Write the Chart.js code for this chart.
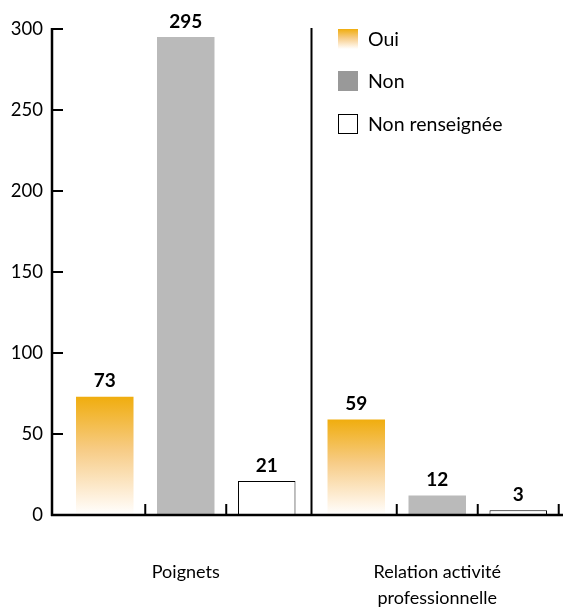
<!DOCTYPE html>
<html><head><meta charset="utf-8">
<script src="https://cdn.jsdelivr.net/npm/chart.js@4.4.1/dist/chart.umd.min.js"></script>
<style>html,body{margin:0;padding:0;background:#fff;}#wrap{width:563px;height:608px;}</style>
</head><body><div id="wrap"><canvas id="c" width="563" height="608"></canvas></div>
<script>
const categories = ['Poignets', ['Relation activité', 'professionnelle']];
const seriesNames = ['Oui', 'Non', 'Non renseignée'];
const ouiValues = [73, 59];
const nonValues = [295, 12];
const nrValues = [21, 3];
const yTicks = [0, 50, 100, 150, 200, 250, 300];

const FONT = 'Lato, "Open Sans", sans-serif';

function orangeGradient(g){
  g.addColorStop(0, '#F0AD0E');
  g.addColorStop(0.45, '#F7CC86');
  g.addColorStop(0.85, '#FEF1DE');
  g.addColorStop(1, '#FFFFFF');
  return g;
}

const decor = {
  id: 'decor',
  afterDatasetsDraw(chart){
    const ctx = chart.ctx, ca = chart.chartArea, y = chart.scales.y;
    const axisX = 52;
    ctx.save();
    ctx.strokeStyle = '#000';
    ctx.lineWidth = 2.5;
    ctx.beginPath(); ctx.moveTo(axisX, ca.top - 1); ctx.lineTo(axisX, ca.bottom + 1); ctx.stroke();
    ctx.beginPath(); ctx.moveTo(axisX - 1, ca.bottom); ctx.lineTo(563, ca.bottom); ctx.stroke();
    ctx.lineWidth = 2;
    yTicks.forEach(v => {
      const py = y.getPixelForValue(v);
      ctx.beginPath(); ctx.moveTo(axisX, py); ctx.lineTo(axisX + 11, py); ctx.stroke();
    });
    const metas = chart.data.datasets.map((d, i) => chart.getDatasetMeta(i));
    const n = categories.length;
    const xs = [];
    for (let c = 0; c < n; c++) metas.forEach(m => xs.push(m.data[c].x));
    const step = xs[1] - xs[0];
    for (let k = 0; k < xs.length; k++) {
      const next = k < xs.length - 1 ? xs[k + 1] : xs[k] + step;
      const mx = (xs[k] + next) / 2;
      const isSep = (k % 3 === 2) && k < xs.length - 1;
      ctx.lineWidth = 2;
      ctx.beginPath();
      ctx.moveTo(mx, ca.bottom);
      ctx.lineTo(mx, isSep ? ca.top - 1 : ca.bottom - 11);
      ctx.stroke();
    }
    ctx.fillStyle = '#000';
    ctx.font = 'bold 19px ' + FONT;
    ctx.textAlign = 'center';
    ctx.textBaseline = 'bottom';
    metas.forEach((m, di) => {
      m.data.forEach((el, i) => {
        ctx.fillText(String(chart.data.datasets[di].data[i]), el.x, el.y - 6);
      });
    });
    const lx = 338, ly = [29, 71, 114], bs = 20;
    ctx.font = '19.5px ' + FONT;
    ctx.textAlign = 'left';
    ctx.textBaseline = 'middle';
    seriesNames.forEach((name, i) => {
      const top = ly[i];
      if (i === 0) {
        ctx.fillStyle = orangeGradient(ctx.createLinearGradient(0, top, 0, top + bs));
        ctx.fillRect(lx, top, bs, bs);
      } else if (i === 1) {
        ctx.fillStyle = '#999999';
        ctx.fillRect(lx, top, bs, bs);
      } else {
        ctx.fillStyle = '#fff';
        ctx.fillRect(lx, top, bs, bs);
        ctx.strokeStyle = '#000'; ctx.lineWidth = 1;
        ctx.strokeRect(lx + 0.5, top + 0.5, bs - 1, bs - 1);
      }
      ctx.fillStyle = '#000';
      ctx.fillText(name, lx + 30, top + bs / 2 + 1);
    });
    ctx.restore();
  }
};

new Chart(document.getElementById('c'), {
  type: 'bar',
  data: {
    labels: categories,
    datasets: [
      { label: seriesNames[0], data: ouiValues, borderWidth: 0,
        backgroundColor: (c) => {
          const ch = c.chart;
          if (!ch.chartArea || c.type !== 'data') return '#F0AD0E';
          const y = ch.scales.y;
          const top = y.getPixelForValue(c.raw), bot = y.getPixelForValue(0);
          return orangeGradient(ch.ctx.createLinearGradient(0, top, 0, bot));
        } },
      { label: seriesNames[1], data: nonValues, backgroundColor: '#BABABA', borderWidth: 0 },
      { label: seriesNames[2], data: nrValues, backgroundColor: '#FFFFFF', borderColor: '#000', borderWidth: 1 }
    ]
  },
  plugins: [decor],
  options: {
    responsive: false,
    animation: false,
    layout: { padding: { top: 29, right: 0, left: 0, bottom: 0 } },
    datasets: { bar: { categoryPercentage: 0.966, barPercentage: 0.71 } },
    plugins: { legend: { display: false }, tooltip: { enabled: false } },
    scales: {
      x: {
        grid: { display: false, drawTicks: false },
        border: { display: false },
        ticks: { color: '#000', font: { family: FONT, size: 18, lineHeight: 1.45 }, padding: 44, maxRotation: 0, autoSkip: false },
        afterFit(s) { s.height = 93; }
      },
      y: {
        min: 0, max: 300,
        afterBuildTicks(s) { s.ticks = yTicks.map(v => ({ value: v })); },
        grid: { display: false, drawTicks: false },
        border: { display: false },
        ticks: { color: '#000', font: { family: FONT, size: 18.5 }, padding: 17 },
        afterFit(s) { s.width = 60; }
      }
    }
  }
});
</script></body></html>
